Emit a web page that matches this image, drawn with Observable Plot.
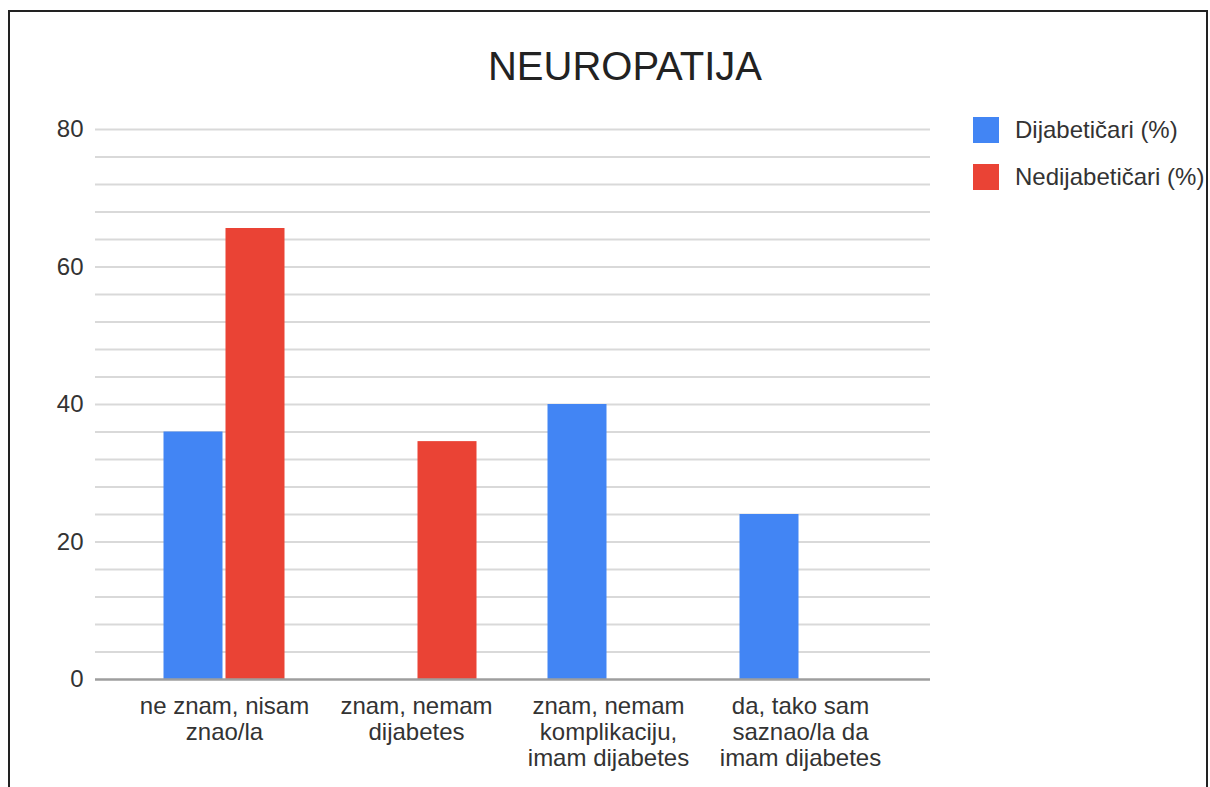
<!DOCTYPE html>
<html>
<head>
<meta charset="utf-8">
<script src="https://cdn.jsdelivr.net/npm/d3@7"></script>
<script src="https://cdn.jsdelivr.net/npm/@observablehq/plot@0.6"></script>
<style>
  html, body { margin: 0; padding: 0; background: #fff; }
  body { width: 1210px; height: 787px; position: relative; overflow: hidden; font-family: "Liberation Sans", Arial, sans-serif; }
  #frame { position: absolute; left: 8px; top: 10px; width: 1196px; height: 820px; border: 2px solid #222; box-sizing: content-box; pointer-events: none; }
  #title { position: absolute; left: 0; width: 1250px; top: 44px; text-align: center; font-size: 40px; color: #222; }
  #chart { position: absolute; left: 0; top: 0; }
  .legend { position: absolute; left: 973px; display: flex; align-items: center; font-size: 24px; color: #333; white-space: nowrap; }
  .legend .sw { width: 26px; height: 26px; margin-right: 16px; }
</style>
</head>
<body>
<div id="chart"></div>
<div id="title">NEUROPATIJA</div>
<div id="legend"></div>
<div id="frame"></div>
<script>
const categories = [
  "ne znam, nisam\nznao/la",
  "znam, nemam\ndijabetes",
  "znam, nemam\nkomplikaciju,\nimam dijabetes",
  "da, tako sam\nsaznao/la da\nimam dijabetes"
];
const seriesNames = ["Dijabetičari (%)", "Nedijabetičari (%)"];
const seriesColors = ["#4285F4", "#EA4335"];
const dijabeticari = [36, 0, 40, 24];
const nedijabeticari = [65.6, 34.6, 0, 0];
const yTicks = [0, 20, 40, 60, 80];
const gridTicks = [4, 8, 12, 16, 20, 24, 28, 32, 36, 40, 44, 48, 52, 56, 60, 64, 68, 72, 76, 80];

const blue = categories.map((c, i) => ({cat: c, v: dijabeticari[i]})).filter(d => d.v > 0);
const red = categories.map((c, i) => ({cat: c, v: nedijabeticari[i]})).filter(d => d.v > 0);

const chart = Plot.plot({
  width: 1210,
  height: 787,
  marginLeft: 95,
  marginRight: 280,
  marginTop: 129,
  marginBottom: 108,
  style: {fontFamily: "'Liberation Sans', Arial, sans-serif", background: "transparent", overflow: "visible"},
  x: {domain: categories, range: [128, 896], padding: 0},
  y: {domain: [0, 80]},
  marks: [
    Plot.ruleY(gridTicks, {stroke: "#d9d9d9", strokeWidth: 2}),
    Plot.barY(blue, {x: "cat", y: "v", fill: seriesColors[0], insetLeft: 66.5, insetRight: 66.5, dx: -31}),
    Plot.barY(red, {x: "cat", y: "v", fill: seriesColors[1], insetLeft: 66.5, insetRight: 66.5, dx: 31}),
    Plot.ruleY([0], {stroke: "#9e9e9e", strokeWidth: 2.5}),
    Plot.axisY({ticks: yTicks, tickSize: 0, tickPadding: 12, fontSize: 24, fill: "#333", label: null}),
    Plot.axisX({tickSize: 0, tickPadding: 16, fontSize: 24, lineHeight: 1.08, fill: "#333", label: null})
  ]
});
document.getElementById("chart").appendChild(chart);

const legend = document.getElementById("legend");
seriesNames.forEach((name, i) => {
  const row = document.createElement("div");
  row.className = "legend";
  row.style.top = (116 + i * 47) + "px";
  const sw = document.createElement("div");
  sw.className = "sw";
  sw.style.background = seriesColors[i];
  const t = document.createElement("span");
  t.textContent = name;
  row.appendChild(sw);
  row.appendChild(t);
  legend.appendChild(row);
});
</script>
</body>
</html>
